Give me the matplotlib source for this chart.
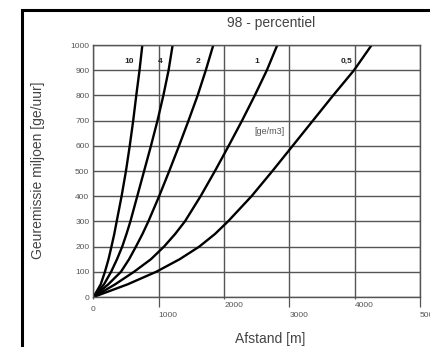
import matplotlib
matplotlib.use('Agg')
import matplotlib.pyplot as plt
from matplotlib.patches import Rectangle
from matplotlib.transforms import ScaledTranslation

plt.rcParams['font.family'] = ['Liberation Sans', 'DejaVu Sans']

# emission levels (y) and distances (x) per concentration curve
emissie = [0, 50, 100, 150, 200, 250, 300, 400, 500, 600, 700, 800, 900, 1000]
afstand_10 = [0, 110, 175, 230, 275, 318, 355, 430, 497, 555, 608, 655, 705, 748]
afstand_4 = [0, 160, 270, 360, 440, 505, 565, 670, 775, 880, 980, 1070, 1150, 1212]
afstand_2 = [0, 225, 420, 545, 650, 750, 840, 1005, 1160, 1310, 1455, 1595, 1720, 1835]
afstand_1 = [0, 330, 620, 880, 1080, 1250, 1400, 1640, 1860, 2070, 2275, 2470, 2655, 2815]
afstand_05 = [0, 520, 960, 1320, 1620, 1860, 2060, 2420, 2740, 3050, 3360, 3670, 3990, 4260]

curves = [afstand_10, afstand_4, afstand_2, afstand_1, afstand_05]
curve_labels = ['10', '4', '2', '1', '0,5']
label_x = [548, 1018, 1605, 2500, 3870]
label_y = 935

x_major = [1000, 3000, 5000]
x_minor = [0, 2000, 4000]
y_ticks = [0, 100, 200, 300, 400, 500, 600, 700, 800, 900, 1000]

grey = '#555555'
W, H = 431, 347

fig = plt.figure(figsize=(W / 100, H / 100), dpi=100)
ax = fig.add_axes([93.5 / W, 1 - 297 / H, 326.5 / W, 252 / H])

for xs in curves:
    ax.plot(xs, emissie, color='black', linewidth=1.7, solid_capstyle='butt', solid_joinstyle='round')

for lab, lx in zip(curve_labels, label_x):
    ax.text(lx, label_y, lab, fontsize=6, fontweight='bold', ha='center', va='center', color='#222222')
ax.text(2692, 656, '[ge/m3]', fontsize=6.5, ha='center', va='center', color=grey)

ax.set_xlim(0, 5000)
ax.set_ylim(0, 1000)
ax.set_xticks(x_major)
ax.set_xticklabels([str(v) for v in x_major])
ax.set_xticks(x_minor, minor=True)
ax.set_xticklabels([str(v) for v in x_minor], minor=True)
ax.set_yticks(y_ticks)
ax.set_yticklabels([str(v) for v in y_ticks])

ax.tick_params(axis='x', which='major', direction='out', length=7.5, width=0.9, color=grey,
               labelsize=6, labelcolor=grey, pad=3.5)
ax.tick_params(axis='x', which='minor', direction='out', length=1.5, width=0.9, color=grey,
               labelsize=6, labelcolor=grey, pad=2)
ax.tick_params(axis='y', length=0, labelsize=6, labelcolor=grey, pad=3)
for t in ax.get_xticklabels() + ax.get_xticklabels(minor=True):
    t.set_ha('left')
zero = ax.get_xticklabels(minor=True)[0]
zero.set_ha('center')
zero.set_transform(zero.get_transform() + ScaledTranslation(0, -3 / 72, fig.dpi_scale_trans))

ax.grid(True, which='both', color=grey, linewidth=1.0)
ax.set_axisbelow(True)
for s in ax.spines.values():
    s.set_color(grey)
    s.set_linewidth(1.0)

fig.text(271.5 / W, 1 - 23.5 / H, '98 - percentiel', fontsize=10, color='#444444', ha='center', va='center')
fig.text(38 / W, 1 - 170 / H, 'Geuremissie miljoen [ge/uur]', fontsize=10, color='#444444',
         rotation=90, ha='center', va='center')
fig.text(270.5 / W, 1 - 339 / H, 'Afstand [m]', fontsize=10, color='#444444', ha='center', va='center')

# thick scan frame, running off the right and bottom edges
fig.add_artist(Rectangle((22.5 / W, -0.5), 2.0, 0.5 + (1 - 10 / H), transform=fig.transFigure,
                         fill=False, edgecolor='black', linewidth=2.2))

fig.savefig('out.png', dpi=100)
